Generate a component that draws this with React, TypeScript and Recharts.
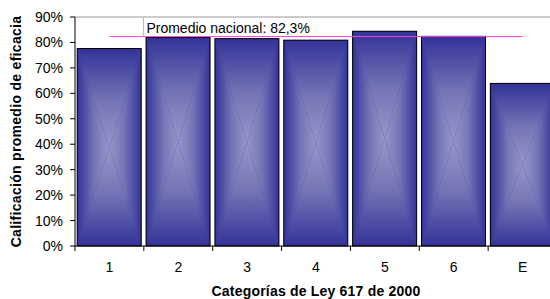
import { BarChart, Bar, XAxis, YAxis, ReferenceLine } from 'recharts';

const categories = ['1', '2', '3', '4', '5', '6', 'E'];
const efficacy = [77.6, 81.9, 81.5, 80.9, 84.4, 82.4, 63.9];
const yTicks = [0, 10, 20, 30, 40, 50, 60, 70, 80, 90];
const nationalAverage = 82.3;
const averageLabel = 'Promedio nacional: 82,3%';

const data = categories.map((cat, i) => ({ cat, value: efficacy[i] }));

const FONT = '"Liberation Sans", Arial, sans-serif';
const CHART_W = 560;
const CHART_H = 299;
const MARGIN = { top: 17, right: 3, left: 0, bottom: 0 };
const Y_AXIS_W = 75;
const X_AXIS_H = 53;
const PLOT_BOTTOM = CHART_H - MARGIN.bottom - X_AXIS_H;
const BAND = (CHART_W - MARGIN.left - MARGIN.right - Y_AXIS_W) / categories.length;

const DARK = '#333399';
const MID = '#7676b6';
const LIGHT = '#9696ca';

// rectangular "from center" gradient built from four triangles
function GradientBar(props: any) {
  const { x, y, width, height } = props;
  if (!height || height <= 0) return null;
  const cx = x + width / 2;
  const cy = y + height / 2;
  const r = x + width;
  const b = y + height;
  return (
    <g>
      <rect x={x} y={y} width={width} height={height} fill={DARK} />
      <path d={`M${x},${y} L${r},${y} L${cx},${cy} Z`} fill="url(#gTop)" />
      <path d={`M${x},${b} L${r},${b} L${cx},${cy} Z`} fill="url(#gBottom)" />
      <path d={`M${x},${y} L${x},${b} L${cx},${cy} Z`} fill="url(#gLeft)" />
      <path d={`M${r},${y} L${r},${b} L${cx},${cy} Z`} fill="url(#gRight)" />
      <rect x={x} y={y} width={width} height={height} fill="none" stroke="#000" strokeWidth={1} />
    </g>
  );
}

function CategoryTick(props: any) {
  const { x, payload } = props;
  const bx = x - BAND / 2;
  return (
    <g>
      <line x1={bx} y1={PLOT_BOTTOM} x2={bx} y2={PLOT_BOTTOM + 5} stroke="#000" />
      <text x={x} y={272} textAnchor="middle" fontSize={14} fontFamily={FONT} fill="#000">
        {payload.value}
      </text>
    </g>
  );
}

export default function App() {
  return (
    <div style={{ position: 'absolute', left: 0, top: 0, width: 550, height: 299, overflow: 'hidden', background: '#fff' }}>
      <BarChart width={CHART_W} height={CHART_H} data={data} margin={MARGIN} barCategoryGap="3.2%">
        <defs>
          <linearGradient id="gLeft" x1="0" y1="0" x2="1" y2="0">
            <stop offset="0%" stopColor={DARK} />
            <stop offset="55%" stopColor={MID} />
            <stop offset="100%" stopColor={LIGHT} />
          </linearGradient>
          <linearGradient id="gRight" x1="0" y1="0" x2="1" y2="0">
            <stop offset="0%" stopColor={LIGHT} />
            <stop offset="45%" stopColor={MID} />
            <stop offset="100%" stopColor={DARK} />
          </linearGradient>
          <linearGradient id="gTop" x1="0" y1="0" x2="0" y2="1">
            <stop offset="0%" stopColor={DARK} />
            <stop offset="55%" stopColor={MID} />
            <stop offset="100%" stopColor={LIGHT} />
          </linearGradient>
          <linearGradient id="gBottom" x1="0" y1="0" x2="0" y2="1">
            <stop offset="0%" stopColor={LIGHT} />
            <stop offset="45%" stopColor={MID} />
            <stop offset="100%" stopColor={DARK} />
          </linearGradient>
        </defs>
        <XAxis
          dataKey="cat"
          height={X_AXIS_H}
          axisLine={{ stroke: '#000' }}
          tickLine={false}
          tick={<CategoryTick />}
          interval={0}
          label={{
            content: () => (
              <text x={316} y={296} textAnchor="middle" fontSize={14} fontWeight="bold" fontFamily={FONT} fill="#000" letterSpacing={0.2}>
                Categorías de Ley 617 de 2000
              </text>
            ),
          }}
        />
        <YAxis
          width={Y_AXIS_W}
          domain={[0, 90]}
          ticks={yTicks}
          interval={0}
          tickFormatter={(v) => `${v}%`}
          axisLine={{ stroke: '#000' }}
          tickLine={{ stroke: '#000' }}
          tickSize={5}
          tickMargin={7}
          tick={{ fontSize: 14, fill: '#000', fontFamily: FONT }}
          label={{
            content: () => (
              <text
                transform={`translate(21, ${(MARGIN.top + PLOT_BOTTOM) / 2}) rotate(-90)`}
                textAnchor="middle"
                fontSize={14}
                fontWeight="bold"
                fontFamily={FONT}
                fill="#000"
                letterSpacing={0.3}
              >
                Calificación promedio de eficacia
              </text>
            ),
          }}
        />
        <ReferenceLine y={90} stroke="#999" strokeWidth={1} />
        <Bar dataKey="value" shape={<GradientBar />} isAnimationActive={false} />
        <ReferenceLine
          segment={[
            { x: categories[0], y: nationalAverage },
            { x: categories[categories.length - 1], y: nationalAverage },
          ]}
          stroke="#ee44dd"
          strokeWidth={1}
          label={(p: any) => {
            const vb = p.viewBox || {};
            const lx = (vb.x ?? 0) + 37;
            const ly = vb.y ?? 0;
            return (
              <g>
                <line x1={lx - 3} y1={MARGIN.top} x2={lx - 3} y2={ly} stroke="#bbb" />
                <text x={lx} y={ly - 4} fontSize={14} fontFamily={FONT} fill="#000">
                  {averageLabel}
                </text>
              </g>
            );
          }}
        />
      </BarChart>
    </div>
  );
}
